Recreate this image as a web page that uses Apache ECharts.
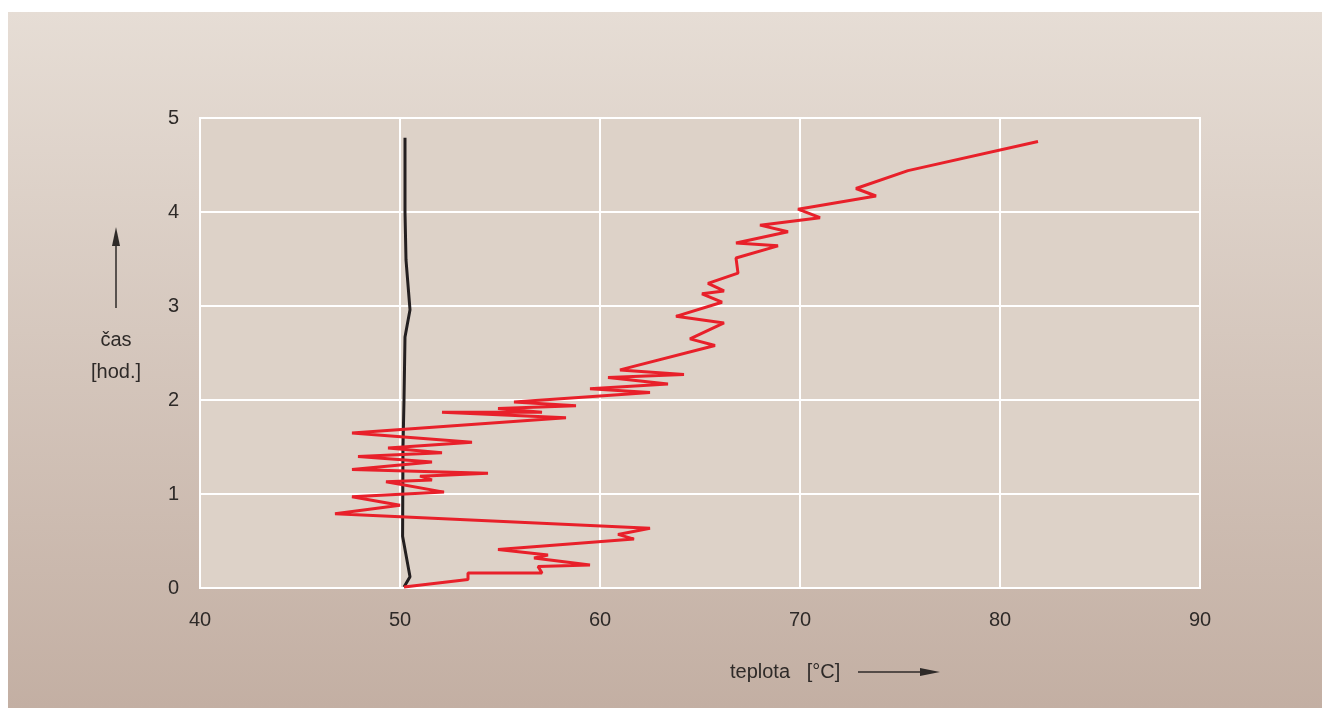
<!DOCTYPE html>
<html>
<head>
<meta charset="utf-8">
<script src="https://cdn.jsdelivr.net/npm/echarts@6/dist/echarts.min.js"></script>
<style>
html,body{margin:0;padding:0;background:#fff;}
#c{width:1322px;height:708px;}
</style>
</head>
<body>
<div id="c"></div>
<script>
// Red series: temperature [°C] and time [hod.]
const redTemp = [50.2,53.4,53.4,57.1,56.9,59.5,56.7,57.4,54.9,61.7,60.9,62.5,46.75,50.0,47.6,52.2,49.3,51.6,51.0,54.4,47.6,51.6,47.9,52.1,49.4,53.6,47.6,58.3,52.1,57.1,54.9,58.8,55.7,62.5,59.5,63.4,60.4,64.2,61.0,65.75,64.5,66.2,63.8,66.1,65.1,66.2,65.4,66.9,66.8,68.9,66.8,69.4,68.0,71.0,69.9,73.8,72.8,75.4,81.9];
const redTime = [0.01,0.09,0.16,0.16,0.23,0.245,0.32,0.35,0.41,0.52,0.57,0.635,0.79,0.88,0.97,1.02,1.13,1.15,1.19,1.22,1.26,1.34,1.40,1.44,1.49,1.55,1.65,1.81,1.87,1.87,1.91,1.94,1.98,2.08,2.12,2.17,2.24,2.27,2.32,2.58,2.65,2.82,2.89,3.04,3.13,3.16,3.24,3.35,3.51,3.64,3.67,3.79,3.86,3.94,4.03,4.17,4.25,4.44,4.75];
// Black series
const blackTemp = [50.2,50.5,50.13,50.15,50.2,50.25,50.5,50.3,50.25,50.25];
const blackTime = [0.01,0.12,0.55,1.5,2.0,2.67,2.96,3.49,4.0,4.79];
// Axes
const xTicks = [40,50,60,70,80,90];
const yTicks = [0,1,2,3,4,5];
const xTitle = 'teplota   [°C]';
const yTitle1 = 'čas';
const yTitle2 = '[hod.]';

const red = redTemp.map((t,i)=>[t,redTime[i]]);
const black = blackTemp.map((t,i)=>[t,blackTime[i]]);

const chart = echarts.init(document.getElementById('c'));
const font = '"Liberation Sans", Arial, Helvetica, sans-serif';
const txt = '#2e2a28';
chart.setOption({
  animation:false,
  graphic:[
    {type:'rect',z:-10,silent:true,shape:{x:8,y:12,width:1314,height:696},
     style:{fill:new echarts.graphic.LinearGradient(0,0,0,1,[{offset:0,color:'#e6ddd5'},{offset:1,color:'#c3afa3'}])}},
    {type:'text',x:116,y:340,style:{text:yTitle1,font:'20px '+font,fill:txt,align:'center',verticalAlign:'middle'}},
    {type:'text',x:116,y:372,style:{text:yTitle2,font:'20px '+font,fill:txt,align:'center',verticalAlign:'middle'}},
    {type:'line',shape:{x1:116,y1:308,x2:116,y2:240},style:{stroke:txt,lineWidth:1.5}},
    {type:'polygon',shape:{points:[[116,227],[112,246],[120,246]]},style:{fill:txt}},
    {type:'text',x:730,y:672,style:{text:xTitle,font:'20px '+font,fill:txt,verticalAlign:'middle'}},
    {type:'line',shape:{x1:858,y1:672,x2:925,y2:672},style:{stroke:txt,lineWidth:1.5}},
    {type:'polygon',shape:{points:[[940,672],[920,668],[920,676]]},style:{fill:txt}}
  ],
  grid:{left:200,top:118,width:1000,height:470,show:true,backgroundColor:'#ddd2c8',borderColor:'#ffffff',borderWidth:2},
  xAxis:{type:'value',min:xTicks[0],max:xTicks[xTicks.length-1],interval:10,
    axisLine:{show:false},axisTick:{show:false},
    splitLine:{show:true,lineStyle:{color:'#ffffff',width:2}},
    axisLabel:{color:txt,fontSize:20,fontFamily:font,margin:22}},
  yAxis:{type:'value',min:yTicks[0],max:yTicks[yTicks.length-1],interval:1,
    axisLine:{show:false},axisTick:{show:false},
    splitLine:{show:true,lineStyle:{color:'#ffffff',width:2}},
    axisLabel:{color:txt,fontSize:20,fontFamily:font,margin:21}},
  series:[
    {type:'line',data:black,showSymbol:false,symbol:'none',lineStyle:{color:'#231f20',width:3},z:3},
    {type:'line',data:red,showSymbol:false,symbol:'none',lineStyle:{color:'#e8202a',width:3},z:4}
  ]
});
</script>
</body>
</html>
